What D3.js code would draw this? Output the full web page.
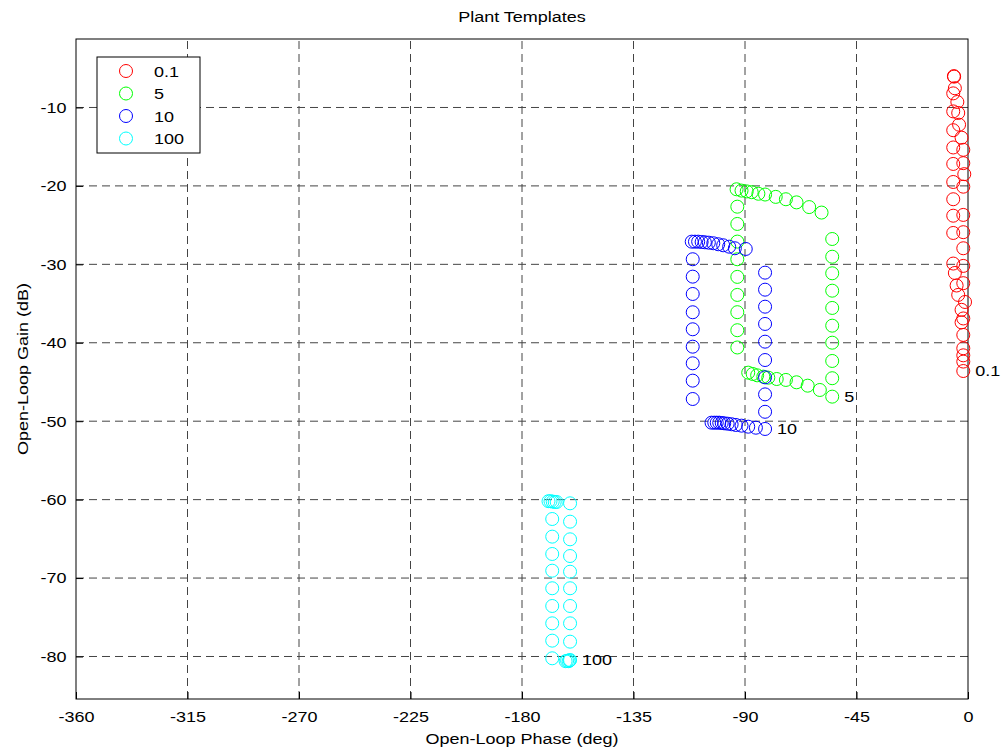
<!DOCTYPE html>
<html>
<head>
<meta charset="utf-8">
<script src="https://cdn.jsdelivr.net/npm/d3@7.9.0/dist/d3.min.js"></script>
<style>
  body { margin: 0; background: #fff; }
  svg text { font-family: "Liberation Sans", Arial, sans-serif; font-size: 15px; fill: #000; }
</style>
</head>
<body>
<svg id="chart" width="1007" height="751"></svg>
<script>
// tick labels
const xTicks = [-360, -315, -270, -225, -180, -135, -90, -45, 0];
const yTicks = [-80, -70, -60, -50, -40, -30, -20, -10];

// legend / series names and colours
const seriesNames = ["0.1", "5", "10", "100"];
const seriesColors = ["#ff0000", "#00ff00", "#0000ff", "#00ffff"];

// template points (phase in deg, gain in dB)
const phase01 = [-5.6, -5.7, -5.3, -5.96, -4.3, -5.96, -3.95, -3.6, -5.96, -2.6, -5.96, -1.9, -5.96, -1.9, -1.5,
  -5.96, -1.9, -5.96, -5.96, -1.9, -5.96, -1.9, -1.9, -5.96, -1.9, -5.3, -4.6, -1.9, -3.95, -1.2, -2.6,
  -1.9, -2.6, -1.9, -1.9, -1.9, -1.9, -1.9];
const gain01 = [-6.07, -6.0, -7.55, -8.2, -9.3, -10.5, -10.7, -12.2, -12.9, -13.85, -15.1, -15.4, -17.2, -17.1, -18.5,
  -19.5, -20.1, -21.7, -23.8, -23.7, -26.0, -25.9, -27.95, -29.9, -30.2, -31.1, -32.7, -32.4, -33.9, -34.8, -35.8,
  -36.9, -37.4, -39.0, -40.7, -41.6, -42.4, -43.6];

const phase5 = [-93.4, -91.4, -89.3, -87.3, -84.6, -81.9, -77.6, -73.5, -69.2, -64.1, -59.1,
  -93.1, -93.1, -93.1, -93.1, -93.1, -93.1, -93.1, -93.1, -93.1,
  -54.8, -54.8, -54.8, -54.8, -54.8, -54.8, -54.8, -54.8, -54.8,
  -88.7, -86.9, -85.1, -82.6, -80.6, -77.2, -73.5, -69.2, -64.7, -59.8, -54.8];
const gain5 = [-20.43, -20.6, -20.7, -20.8, -21.0, -21.1, -21.4, -21.7, -22.1, -22.7, -23.4,
  -22.65, -24.85, -27.1, -29.35, -31.6, -33.9, -36.1, -38.4, -40.6,
  -26.77, -29.03, -31.14, -33.36, -35.56, -37.82, -39.99, -42.32, -44.52,
  -43.81, -43.98, -44.15, -44.32, -44.45, -44.62, -44.74, -45.04, -45.47, -46.02, -46.87];

const phase10 = [-111.5, -110.2, -108.9, -107.5, -106.2, -104.6, -102.8, -100.8, -98.8, -96.4, -94.1, -89.7,
  -111.1, -111.1, -111.1, -111.1, -111.1, -111.1, -111.1, -111.1, -111.1,
  -81.9, -81.9, -81.9, -81.9, -81.9, -81.9, -81.9, -81.9, -81.9,
  -103.5, -102.4, -101.4, -100.4, -99.4, -98.4, -97.0, -95.4, -93.7, -91.4, -88.7, -85.6, -81.9];
const gain10 = [-27.11, -27.11, -27.11, -27.15, -27.19, -27.24, -27.31, -27.44, -27.57, -27.75, -27.95, -28.04,
  -29.35, -31.57, -33.78, -36.11, -38.28, -40.5, -42.62, -44.83, -47.17,
  -31.06, -33.23, -35.4, -37.6, -39.86, -42.2, -44.41, -46.58, -48.8,
  -50.19, -50.19, -50.19, -50.19, -50.23, -50.27, -50.32, -50.39, -50.48, -50.57, -50.7, -50.83, -50.99];

const phase100 = [-169.3, -168.5, -167.6, -166.8, -166.0,
  -167.8, -167.8, -167.8, -167.8, -167.8, -167.8, -167.8, -167.8, -167.8,
  -160.6, -160.6, -160.6, -160.6, -160.6, -160.6, -160.6, -160.6, -160.6,
  -162.4, -161.8, -161.2, -160.8, -160.6];
const gain100 = [-60.2, -60.2, -60.25, -60.3, -60.3,
  -62.47, -64.72, -66.93, -69.06, -71.3, -73.56, -75.77, -77.98, -80.23,
  -60.47, -62.81, -65.06, -67.19, -69.19, -71.3, -73.56, -75.77, -78.11,
  -80.6, -80.55, -80.6, -80.5, -80.45];

const series = [
  { name: seriesNames[0], color: seriesColors[0], x: phase01, y: gain01 },
  { name: seriesNames[1], color: seriesColors[1], x: phase5, y: gain5 },
  { name: seriesNames[2], color: seriesColors[2], x: phase10, y: gain10 },
  { name: seriesNames[3], color: seriesColors[3], x: phase100, y: gain100 }
];

const margin = { left: 76, right: 39, top: 39, bottom: 52 };
const width = 1007, height = 751;
const svg = d3.select("#chart");

// the original's lettering is wider than it is tall
const stretch = 1.2;

const x = d3.scaleLinear().domain([-360, 0]).range([margin.left, width - margin.right]);
const y = d3.scaleLinear().domain([-85.42, -1.27]).range([height - margin.bottom, margin.top]);

const x0 = x.range()[0], x1 = x.range()[1];
const y0 = y.range()[0], y1 = y.range()[1];

// put a stretched text at (tx, ty)
function label(parent, tx, ty, txt, anchor, rot) {
  return parent.append("text")
    .attr("transform", `translate(${tx},${ty})` + (rot ? ` rotate(${rot})` : "") + ` scale(${stretch},1)`)
    .attr("text-anchor", anchor || "start")
    .text(txt);
}

// grid
svg.append("g").selectAll("line")
  .data(xTicks.slice(1, -1))
  .enter().append("line")
  .attr("x1", d => x(d)).attr("x2", d => x(d))
  .attr("y1", y0).attr("y2", y1)
  .attr("stroke", "#444").attr("stroke-dasharray", "8,5");

svg.append("g").selectAll("line")
  .data(yTicks)
  .enter().append("line")
  .attr("x1", x0).attr("x2", x1)
  .attr("y1", d => y(d)).attr("y2", d => y(d))
  .attr("stroke", "#444").attr("stroke-dasharray", "8,5");

// axes (ticks inside), plain hyphen minus like the original
const xAxis = svg.append("g").attr("transform", `translate(0,${y0})`)
  .call(d3.axisBottom(x).tickValues(xTicks).tickFormat(d => String(d))
    .tickSizeInner(-7).tickSizeOuter(0).tickPadding(12));
const yAxis = svg.append("g").attr("transform", `translate(${x0},0)`)
  .call(d3.axisLeft(y).tickValues(yTicks).tickFormat(d => String(d))
    .tickSizeInner(-7).tickSizeOuter(0).tickPadding(8));
[xAxis, yAxis].forEach(a => {
  a.select(".domain").remove();
  a.selectAll("line").attr("stroke", "#000");
  a.selectAll("text").attr("fill", "#000").attr("font-size", null).attr("font-family", null)
    .attr("transform", `scale(${stretch},1)`);
});

// frame
svg.append("rect")
  .attr("x", x0).attr("y", y1)
  .attr("width", x1 - x0).attr("height", y0 - y1)
  .attr("fill", "none").attr("stroke", "#000").attr("stroke-width", 1);

// markers
const r = 6.5;
series.forEach(s => {
  svg.append("g").selectAll("circle")
    .data(s.x.map((v, i) => [v, s.y[i]]))
    .enter().append("circle")
    .attr("cx", d => x(d[0])).attr("cy", d => y(d[1]))
    .attr("r", r)
    .attr("fill", "none").attr("stroke", s.color).attr("stroke-width", 1);

  // label at last point
  const n = s.x.length - 1;
  label(svg, x(s.x[n]) + 12, y(s.y[n]) + 5, s.name);
});

// legend
const lg = svg.append("g");
lg.append("rect")
  .attr("x", 97).attr("y", 57).attr("width", 103).attr("height", 96)
  .attr("fill", "#fff").attr("stroke", "#000");
series.forEach((s, i) => {
  lg.append("circle")
    .attr("cx", 126).attr("cy", 71 + i * 22.5).attr("r", r)
    .attr("fill", "none").attr("stroke", s.color);
  label(lg, 154, 71 + i * 22.5 + 5.5, s.name);
});

// titles
label(svg, (x0 + x1) / 2, 22, "Plant Templates", "middle");
label(svg, (x0 + x1) / 2, 744, "Open-Loop Phase (deg)", "middle");
label(svg, 28, (y0 + y1) / 2, "Open-Loop Gain (dB)", "middle", -90);
</script>
</body>
</html>
